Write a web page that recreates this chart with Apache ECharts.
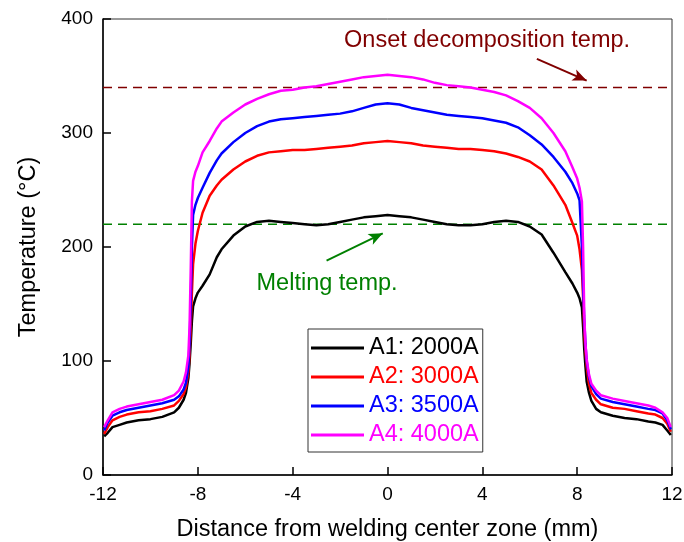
<!DOCTYPE html>
<html>
<head>
<meta charset="utf-8">
<script src="https://cdn.jsdelivr.net/npm/echarts@6/dist/echarts.min.js"></script>
<style>
html, body { margin: 0; padding: 0; background: #fff; }
#chart { width: 684px; height: 542px; }
</style>
</head>
<body>
<div id="chart"></div>
<script>
var names = ['A1: 2000A', 'A2: 3000A', 'A3: 3500A', 'A4: 4000A'];
var colors = ['#000000', '#ff0000', '#0000ff', '#ff00ff'];

var xs = [-11.95, -11.8, -11.6, -11.3, -11, -10.5, -10, -9.5, -9, -8.8, -8.6, -8.5, -8.4, -8.35, -8.3, -8.25, -8.2, -8.1, -8.0, -7.8, -7.5, -7.2, -7, -6.5, -6, -5.5, -5, -4.5, -4, -3.5, -3, -2.5, -2, -1.5, -1, -0.5, 0, 0.5, 1, 1.5, 2, 2.5, 3, 3.5, 4, 4.5, 5, 5.5, 6, 6.5, 7, 7.5, 7.8, 8.0, 8.1, 8.2, 8.25, 8.3, 8.35, 8.4, 8.5, 8.6, 8.8, 9, 9.5, 10, 10.5, 11, 11.3, 11.6, 11.8, 11.95];

var a1 = [34, 37, 42, 44, 46, 48, 49, 51, 55, 59, 66, 72, 85, 98, 115, 135, 148, 155, 160, 166, 176, 191, 198, 210, 218, 222, 223, 222, 221, 220, 219, 220, 222, 224, 226, 227, 228, 227, 226, 224, 222, 220, 219, 219, 220, 222, 223, 222, 218, 211, 195, 178, 168, 160, 155, 147, 130, 110, 95, 82, 72, 65, 58, 55, 52, 50, 49, 47, 46, 44, 39, 35];
var a2 = [36, 42, 48, 51, 53, 55, 56, 58, 61, 65, 71, 77, 90, 105, 130, 160, 185, 203, 214, 230, 245, 254, 259, 268, 275, 280, 283, 284, 285, 285, 286, 287, 288, 289, 291, 292, 293, 292, 291, 289, 288, 287, 286, 286, 285, 284, 282, 279, 275, 268, 254, 237, 221, 210, 198, 180, 155, 125, 108, 95, 80, 72, 66, 62, 59, 58, 56, 54, 53, 50, 45, 38];
var a3 = [39, 46, 52, 55, 57, 59, 61, 63, 66, 69, 75, 81, 95, 115, 150, 200, 228, 237, 243, 252, 265, 276, 282, 292, 300, 306, 310, 312, 313, 314, 315, 316, 317, 319, 322, 325, 326, 325, 322, 320, 318, 316, 315, 314, 313, 311, 309, 305, 298, 290, 279, 266, 256, 247, 241, 200, 165, 135, 115, 100, 86, 78, 71, 67, 64, 62, 60, 58, 57, 54, 48, 40];
var a4 = [42, 48, 55, 58, 60, 62, 64, 66, 70, 74, 82, 90, 105, 130, 180, 240, 258, 266, 271, 283, 293, 304, 310, 318, 325, 330, 334, 337, 338, 340, 341, 343, 345, 347, 349, 350, 351, 350, 349, 347, 344, 342, 341, 340, 338, 336, 333, 328, 322, 313, 300, 284, 270, 260, 252, 240, 200, 140, 115, 102, 88, 80, 74, 70, 67, 65, 63, 61, 59, 55, 50, 42];
var curves = [a1, a2, a3, a4];

var xTicks = [-12, -8, -4, 0, 4, 8, 12];
var yTicks = [0, 100, 200, 300, 400];

var meltTemp = 220;
var onsetTemp = 340;
// annotation anchors in data units
var onsetLabelAt = [4.2, 381];
var onsetArrow = [[6.3, 365], [8.4, 346]];
var meltLabelAt = [-2.55, 168];
var meltArrow = [[-2.57, 188], [-0.2, 212]];

var font = 'Liberation Sans, Arial, sans-serif';
var chart = echarts.init(document.getElementById('chart'));

var series = curves.map(function (ys, i) {
    return {
        name: names[i],
        type: 'line',
        data: xs.map(function (x, j) { return [x, ys[j]]; }),
        showSymbol: false,
        symbol: 'none',
        lineStyle: { color: colors[i], width: 2.5 },
        itemStyle: { color: colors[i] },
        z: 3
    };
});

function refLine(v, color, text, at, arrow) {
    return {
        name: text,
        type: 'line',
        data: [[xTicks[0], v], [xTicks[xTicks.length - 1], v]],
        symbol: 'none',
        silent: true,
        lineStyle: { color: color, width: 1.5, type: [9, 6] },
        z: 2,
        markLine: {
            silent: true,
            symbol: ['none', 'arrow'],
            symbolSize: [9, 14],
            label: { show: false },
            lineStyle: { color: color, width: 2, type: 'solid' },
            data: [[{ coord: arrow[0] }, { coord: arrow[1] }]]
        },
        markPoint: {
            silent: true,
            symbol: 'circle',
            symbolSize: 0,
            label: {
                show: true, position: 'inside', formatter: text,
                color: color, fontSize: 23.5, fontFamily: font
            },
            data: [{ coord: at }]
        }
    };
}
series.push(refLine(onsetTemp, '#800000', 'Onset decomposition temp.', onsetLabelAt, onsetArrow));
series.push(refLine(meltTemp, '#008000', 'Melting temp.', meltLabelAt, meltArrow));

chart.setOption({
    animation: false,
    backgroundColor: '#fff',
    grid: {
        left: 103, right: 12, top: 19, bottom: 67, outerBoundsMode: 'none',
        show: true, borderColor: '#333', borderWidth: 1
    },
    legend: {
        orient: 'vertical',
        left: 308, top: 329,
        padding: [7, 4, 5, 3],
        icon: 'rect',
        itemWidth: 53, itemHeight: 3, itemGap: 5, itemTextGap: 7,
        borderColor: '#333', borderWidth: 1,
        textStyle: { fontSize: 23.5, fontFamily: font, lineHeight: 23 },
        data: names.map(function (n, i) { return { name: n, itemStyle: { color: colors[i] }, textStyle: { color: colors[i] } }; })
    },
    xAxis: {
        type: 'value', min: -12, max: 12, interval: 4,
        name: 'Distance from welding center zone (mm)', nameLocation: 'middle', nameGap: 43,
        nameTextStyle: { fontSize: 23.5, fontFamily: font, color: '#000' },
        axisLine: { onZero: false, lineStyle: { color: '#000', width: 1.5 } },
        axisTick: { inside: true, length: 8, lineStyle: { color: '#000', width: 1.5 } },
        axisLabel: { fontSize: 19, fontFamily: font, color: '#000', margin: 10 },
        splitLine: { show: false }
    },
    yAxis: {
        type: 'value', min: 0, max: 400, interval: 100,
        name: 'Temperature (°C)', nameLocation: 'middle', nameGap: 62,
        nameTextStyle: { fontSize: 23.5, fontFamily: font, color: '#000' },
        axisLine: { show: true, onZero: false, lineStyle: { color: '#000', width: 1.5 } },
        axisTick: { show: true, inside: true, length: 8, lineStyle: { color: '#000', width: 1.5 } },
        axisLabel: { fontSize: 19, fontFamily: font, color: '#000', margin: 10 },
        splitLine: { show: false }
    },
    series: series
});
</script>
</body>
</html>
